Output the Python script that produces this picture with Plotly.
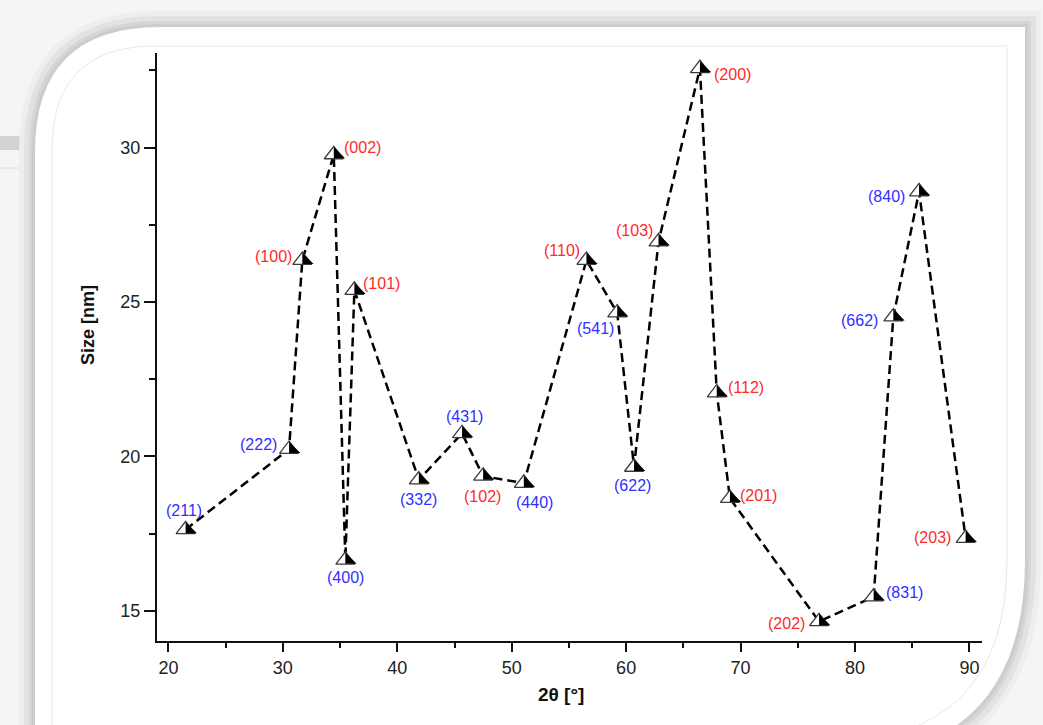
import plotly.graph_objects as go

# ---------------- data ----------------
two_theta = [21.50, 30.54, 31.70, 34.45, 35.46, 36.25, 41.88, 45.66, 47.50, 51.06, 56.53,
             59.22, 60.69, 62.83, 66.45, 67.92, 69.07, 76.86, 81.63, 83.35, 85.60, 89.67]
size_nm = [17.63, 20.23, 26.35, 29.77, 16.64, 25.38, 19.24, 20.74, 19.36, 19.13, 26.35,
           24.65, 19.65, 26.95, 32.56, 22.06, 18.64, 14.65, 15.45, 24.52, 28.57, 17.35]
hkl = ["(211)", "(222)", "(100)", "(002)", "(400)", "(101)", "(332)", "(431)", "(102)", "(440)", "(110)",
       "(541)", "(622)", "(103)", "(200)", "(112)", "(201)", "(202)", "(831)", "(662)", "(840)", "(203)"]
phase = ["B", "B", "R", "R", "B", "R", "B", "B", "R", "B", "R",
         "B", "B", "R", "R", "R", "R", "R", "B", "B", "B", "R"]

x_ticks = [20, 30, 40, 50, 60, 70, 80, 90]
y_ticks = [15, 20, 25, 30]

# ---------------- styling ----------------
W, H = 1043, 725
ML, MR, MT, MB = 157, 61, 53, 84
PW, PH = W - ML - MR, H - MT - MB
FONT = "Liberation Sans, Arial, sans-serif"
phase_color = {"R": "#ff2a2a", "B": "#3030ff"}
# label offsets (pixels, right / down) relative to each symbol
label_offset = {
    "(211)": (-2, -19), "(222)": (-31, -5), "(100)": (-29, -4), "(002)": (29, -7),
    "(400)": (0, 17), "(101)": (27, -7), "(332)": (0, 20), "(431)": (2, -17),
    "(102)": (-1, 20), "(440)": (11, 19), "(110)": (-24, -10), "(541)": (-22, 16),
    "(622)": (-2, 18), "(103)": (-24, -11), "(200)": (33, 6), "(112)": (29, -5),
    "(201)": (29, -3), "(202)": (-33, 2), "(831)": (31, -4), "(662)": (-34, 4),
    "(840)": (-33, 5), "(203)": (-33, -1),
}

MS = 16.5            # outline triangle size
R = MS / 2
RB = 0.76 * R        # half-black triangle radius

fig = go.Figure()
fig.add_trace(go.Scatter(
    x=two_theta, y=size_nm, mode="lines",
    line=dict(color="#000000", width=2.5, dash="9px,5px"),
    hoverinfo="skip", showlegend=False))
fig.add_trace(go.Scatter(
    x=two_theta, y=size_nm, mode="markers",
    marker=dict(symbol="triangle-up", size=MS, color="#ffffff",
                line=dict(color="#3a3a3a", width=1.3)),
    showlegend=False))
fig.add_trace(go.Scatter(
    x=two_theta, y=size_nm, mode="markers",
    marker=dict(symbol="triangle-nw", size=2 * RB, color="#000000", angle=-90,
                standoff=0.6 * RB, line=dict(width=0)),
    hoverinfo="skip", showlegend=False))

annotations = []
for xv, yv, lab, ph in zip(two_theta, size_nm, hkl, phase):
    dx, dy = label_offset[lab]
    annotations.append(dict(
        x=xv, y=yv, xref="x", yref="y", text=lab, showarrow=False,
        xanchor="center", yanchor="middle", xshift=dx, yshift=-dy,
        font=dict(family=FONT, size=16, color=phase_color[ph])))

def px(x):
    return (x - ML) / PW

def py(y):
    return 1 - (y - MT) / PH

def card_path(d):
    pts = [("M", 35 - d, 152), ("Q", 35 - d, 27 - d, 160, 27 - d), ("L", 1025 + d, 27 - d),
           ("L", 1025 + d, 560), ("Q", 1025 + d, 760 + d, 825, 760 + d), ("L", 35 - d, 760 + d)]
    s = ""
    for p in pts:
        cmd = p[0]
        coords = p[1:]
        s += cmd + " " + " ".join(
            f"{px(coords[i]):.5f},{py(coords[i + 1]):.5f}" for i in range(0, len(coords), 2)) + " "
    return s + "Z"

shapes = []
shapes.append(dict(type="rect", xref="paper", yref="paper", x0=px(0), x1=px(21),
                   y0=py(150), y1=py(136), fillcolor="#d3d3d3", line=dict(width=0), layer="below"))
shapes.append(dict(type="line", xref="paper", yref="paper", x0=px(0), x1=px(21),
                   y0=py(168), y1=py(168), line=dict(color="#dcdcdc", width=1), layer="below"))
for d, c in [(16, "#eeeeee"), (11, "#e2e2e2"), (6, "#d6d6d6"), (3, "#cccccc")]:
    shapes.append(dict(type="path", xref="paper", yref="paper", path=card_path(d),
                       fillcolor=c, line=dict(width=0), layer="below"))
shapes.append(dict(type="path", xref="paper", yref="paper", path=card_path(0),
                   fillcolor="#ffffff", line=dict(width=0), layer="below"))
inner = (f"M {px(52):.5f},{py(150):.5f} Q {px(52):.5f},{py(46):.5f} {px(156):.5f},{py(46):.5f} "
         f"L {px(1007):.5f},{py(46):.5f} L {px(1007):.5f},{py(560):.5f} "
         f"Q {px(1007):.5f},{py(742):.5f} {px(825):.5f},{py(742):.5f} L {px(52):.5f},{py(742):.5f} Z")
shapes.append(dict(type="path", xref="paper", yref="paper", path=inner,
                   fillcolor="rgba(0,0,0,0)", line=dict(color="#e8e8e8", width=1), layer="below"))

annotations.append(dict(text="<b>2θ [°]</b>", xref="paper", yref="paper", x=px(561), y=py(694),
                        showarrow=False, xanchor="center", yanchor="middle",
                        font=dict(family=FONT, size=19, color="#111111")))
annotations.append(dict(text="<b>Size [nm]</b>", xref="paper", yref="paper", x=px(88), y=py(325),
                        showarrow=False, xanchor="center", yanchor="middle", textangle=-90,
                        font=dict(family=FONT, size=18, color="#111111")))

axis_common = dict(showgrid=False, zeroline=False, showline=True, linecolor="#111111",
                   linewidth=2, ticks="outside", tickcolor="#111111", tickwidth=2,
                   tickfont=dict(family=FONT, size=18, color="#222222"), mirror=False)

fig.update_layout(
    width=W, height=H,
    margin=dict(l=ML, r=MR, t=MT, b=MB, autoexpand=False),
    paper_bgcolor="#f5f5f5", plot_bgcolor="rgba(0,0,0,0)",
    xaxis=dict(range=[19.0, 91.1], tickvals=x_ticks, ticklen=9,
               minor=dict(dtick=5, tick0=15, ticks="outside", ticklen=5, tickwidth=1.5,
                          tickcolor="#111111", showgrid=False),
               **axis_common),
    yaxis=dict(range=[14.02, 33.06], tickvals=y_ticks, ticklen=11,
               minor=dict(dtick=2.5, tick0=15, ticks="outside", ticklen=6, tickwidth=1.5,
                          tickcolor="#111111", showgrid=False),
               **axis_common),
    shapes=shapes, annotations=annotations, showlegend=False,
)

fig.write_html("out.html", config={"displayModeBar": False},
               post_script="document.body.style.margin='0';document.body.style.background='#f5f5f5';")
